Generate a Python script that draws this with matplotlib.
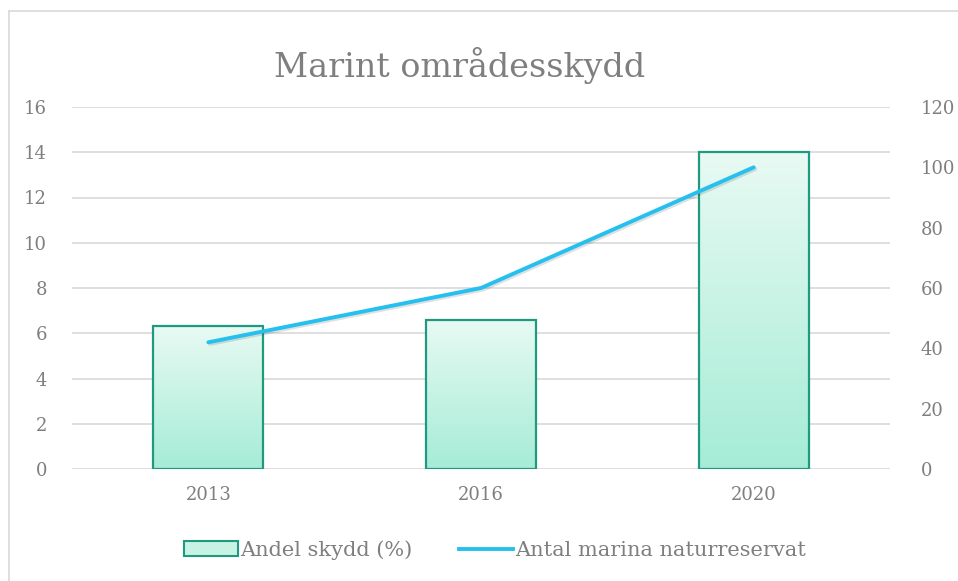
import numpy as np
import matplotlib
matplotlib.use("Agg")
import matplotlib.pyplot as plt
import matplotlib.patheffects as pe
from matplotlib.patches import Patch
from matplotlib.lines import Line2D
from matplotlib.colors import LinearSegmentedColormap

years = ["2013", "2016", "2020"]
andel_skydd = [6.3, 6.6, 14.0]
antal_reservat = [42, 60, 100]
left_ticks = [0, 2, 4, 6, 8, 10, 12, 14, 16]
right_ticks = [0, 20, 40, 60, 80, 100, 120]

plt.rcParams['font.family'] = ['DejaVu Serif']
grey = '#7f7f7f'
edge = '#1f9a80'
blue = '#25c0ef'
grad = LinearSegmentedColormap.from_list('g', ['#a5ecd6', '#e8faf3'])

fig = plt.figure(figsize=(9.58, 5.81), dpi=100)
ax = fig.add_axes([72/958, 1-469/581, 818/958, 362/581])
ax2 = ax.twinx()

x = np.arange(len(years))
bars = ax.bar(x, andel_skydd, width=0.403, facecolor='none', edgecolor=edge, linewidth=1.6, zorder=3)
g = np.linspace(0, 1, 256).reshape(-1, 1)
for b in bars:
    x0, y0 = b.get_x(), b.get_y()
    im = ax.imshow(g, cmap=grad, aspect='auto', origin='lower',
                   extent=[x0, x0 + b.get_width(), y0, y0 + b.get_height()], zorder=2)
    im.set_clip_path(b)

ax.set_xlim(-0.5, 2.5)
ax.set_ylim(0, 16)
ax.set_yticks(left_ticks)
ax.set_xticks(x)
ax.set_xticklabels(years)
ax.grid(axis='y', color='#d9d9d9', linewidth=1.2, zorder=0)
ax.set_axisbelow(True)
for s in ax.spines.values():
    s.set_visible(False)
ax.tick_params(length=0, labelsize=13, labelcolor=grey, pad=18)
ax.tick_params(axis='x', pad=12)

ax2.plot(x, antal_reservat, color=blue, linewidth=2.8, solid_capstyle='round', zorder=4,
         path_effects=[pe.SimpleLineShadow(offset=(1.2, -1.2), alpha=0.12), pe.Normal()])
ax2.set_ylim(0, 120)
ax2.set_yticks(right_ticks)
for s in ax2.spines.values():
    s.set_visible(False)
ax2.tick_params(length=0, labelsize=13, labelcolor=grey, pad=22)

fig.text(460/958, 1-65/581, 'Marint områdesskydd', ha='center', va='center', fontsize=24, color=grey)

handles = [Patch(facecolor='#c8f3e4', edgecolor=edge, linewidth=1.5),
           Line2D([0], [0], color=blue, linewidth=2.8)]
fig.legend(handles, ['Andel skydd (%)', 'Antal marina naturreservat'], loc='center',
           bbox_to_anchor=(0.5 + 16/958, 1-550/581), ncol=2, frameon=False, fontsize=15,
           labelcolor=grey, handlelength=2.6, handletextpad=0.1, columnspacing=2.2)

fig.add_artist(Line2D([9/958, 9/958], [0, 1-11/581], transform=fig.transFigure, color='#d9d9d9', linewidth=1.2))
fig.add_artist(Line2D([9/958, 1], [1-11/581, 1-11/581], transform=fig.transFigure, color='#d9d9d9', linewidth=1.2))

fig.savefig('out.png', dpi=100, facecolor='white')
